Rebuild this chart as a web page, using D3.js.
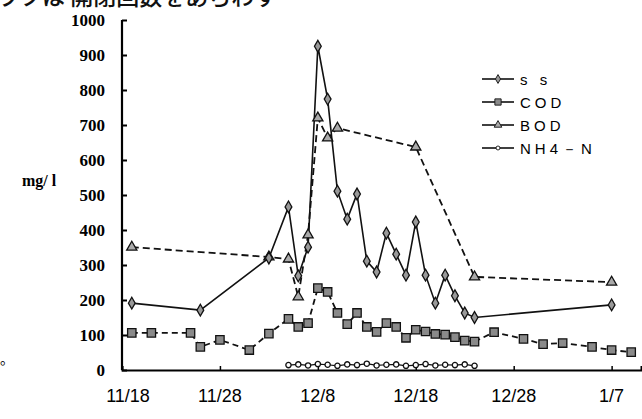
<!DOCTYPE html>
<html>
<head>
<meta charset="utf-8">
<script src="https://d3js.org/d3.v7.min.js"></script>
<style>
  body { margin: 0; background: #fff; }
  svg { display: block; }
</style>
</head>
<body>
<div id="chart-area"></div>
<script>
// days counted from 11/18
const ssDays = [1, 8, 15, 17, 18, 19, 20, 21, 22, 23, 24, 25, 26, 27, 28, 29, 30, 31, 32, 33, 34, 35, 36, 50]
const ssValues = [191, 171, 320, 466, 269, 351, 925, 774, 511, 431, 503, 311, 280, 391, 331, 271, 423, 271, 191, 271, 212, 163, 150, 186]

const codDays = [1, 3, 7, 8, 10, 13, 15, 17, 18, 19, 20, 21, 22, 23, 24, 25, 26, 27, 28, 29, 30, 31, 32, 33, 34, 35, 36, 38, 41, 43, 45, 48, 50, 52]
const codValues = [106, 106, 106, 66, 86, 57, 104, 146, 123, 134, 234, 223, 163, 131, 163, 123, 109, 134, 123, 92, 115, 110, 103, 101, 94, 84, 81, 108, 89, 74, 77, 66, 57, 51]

const bodDays = [1, 15, 17, 18, 19, 20, 21, 22, 30, 36, 50]
const bodValues = [351, 323, 317, 209, 386, 720, 663, 691, 637, 266, 251]

const nhDays = [17, 18, 19, 20, 21, 22, 23, 24, 25, 26, 27, 28, 29, 30, 31, 32, 33, 34, 35, 36]
const nhValues = [14, 16, 13, 17, 15, 12, 16, 14, 18, 13, 15, 16, 12, 14, 17, 13, 15, 14, 16, 12]

const tickDays = [0, 10, 20, 30, 40, 50]
const tickLabels = ["11/18", "11/28", "12/8", "12/18", "12/28", "1/7"]
const yTicks = [0, 100, 200, 300, 400, 500, 600, 700, 800, 900, 1000]
const seriesNames = ["s s", "COD", "BOD", "NH4－N"]

const WIDTH = 642
const HEIGHT = 419

const svg = d3.select("#chart-area").append("svg")
  .attr("width", WIDTH)
  .attr("height", HEIGHT)

const x = d3.scaleLinear().domain([0, 53]).range([122, 641])
const y = d3.scaleLinear().domain([0, 1000]).range([370, 20])

// cut-off caption at the very top
svg.append("text")
  .attr("x", -4)
  .attr("y", 5)
  .attr("font-family", "Noto Sans CJK JP")
  .attr("font-weight", "500")
  .attr("font-size", "23px")
  .attr("fill", "#111")
  .text("ラフは 開閉回数をあらわす")

// Y axis
const yAxis = svg.append("g")
  .attr("transform", `translate(${x(0)}, 0)`)
  .call(d3.axisRight(y).tickValues(yTicks).tickSize(5).tickFormat(""))
yAxis.select(".domain").attr("stroke-width", 2.2).attr("d", `M0,${y(1000)}V${y(0)}`)
yAxis.selectAll(".tick line").attr("stroke-width", 2)

svg.append("g")
  .selectAll("text")
  .data(yTicks)
  .join("text")
    .attr("x", 105)
    .attr("y", d => y(d) + 6)
    .attr("text-anchor", "end")
    .attr("font-family", "Liberation Serif")
    .attr("font-weight", "bold")
    .attr("font-size", "17px")
    .text(d => d)

// X axis
const xAxis = svg.append("g")
  .attr("transform", `translate(0, ${y(0)})`)
  .call(d3.axisTop(x).tickValues(tickDays).tickSize(4).tickFormat(""))
xAxis.select(".domain").attr("stroke-width", 2)
xAxis.selectAll(".tick line").attr("stroke-width", 1.5)

svg.append("g")
  .selectAll("text")
  .data(tickDays)
  .join("text")
    .attr("x", d => x(d) + (d === 0 ? 6 : 0))
    .attr("y", 402)
    .attr("text-anchor", "middle")
    .attr("font-family", "Liberation Sans Narrow, Liberation Sans")
    .attr("font-size", "18px")
    .text((d, i) => tickLabels[i])

// Y label
svg.append("text")
  .attr("x", 22)
  .attr("y", 186)
  .attr("font-family", "Liberation Serif")
  .attr("font-weight", "bold")
  .attr("font-size", "16px")
  .text("mg/ l")

svg.append("text")
  .attr("x", 0)
  .attr("y", 364)
  .attr("font-family", "Noto Sans CJK JP")
  .attr("font-size", "14px")
  .text("。")

const line = d3.line().x(d => x(d[0])).y(d => y(d[1]))

function pairs(days, vals) { return days.map((d, i) => [d, vals[i]]) }

const ssData = pairs(ssDays, ssValues)
const codData = pairs(codDays, codValues)
const bodData = pairs(bodDays, bodValues)
const nhData = pairs(nhDays, nhValues)

const plot = svg.append("g")

plot.append("path").datum(nhData).attr("d", line)
  .attr("fill", "none").attr("stroke", "#111").attr("stroke-width", 1.2)
plot.append("path").datum(codData).attr("d", line)
  .attr("fill", "none").attr("stroke", "#111").attr("stroke-width", 1.8).attr("stroke-dasharray", "6,4")
plot.append("path").datum(bodData).attr("d", line)
  .attr("fill", "none").attr("stroke", "#111").attr("stroke-width", 1.8).attr("stroke-dasharray", "7,4")
plot.append("path").datum(ssData).attr("d", line)
  .attr("fill", "none").attr("stroke", "#111").attr("stroke-width", 1.6)

const markers = {
  ss: d3.symbol(d3.symbolDiamond, 40),
  cod: d3.symbol(d3.symbolSquare, 70),
  bod: d3.symbol(d3.symbolTriangle, 45),
  nh: d3.symbol(d3.symbolCircle, 22)
}

function drawMarkers(data, sym, fill) {
  plot.append("g").selectAll("path")
    .data(data)
    .join("path")
      .attr("transform", d => `translate(${x(d[0])}, ${y(d[1])})`)
      .attr("d", sym)
      .attr("fill", fill)
      .attr("stroke", "#111")
      .attr("stroke-width", 1.3)
}

drawMarkers(nhData, markers.nh, "#fff")
drawMarkers(codData, markers.cod, "#8a8a8a")
drawMarkers(bodData, markers.bod, "#aaa")
drawMarkers(ssData, markers.ss, "#999")

// Legend
const legend = svg.append("g").attr("transform", "translate(482, 79)")
const legendSyms = [markers.ss, markers.cod, markers.bod, markers.nh]
const legendFill = ["#999", "#8a8a8a", "#aaa", "#fff"]
seriesNames.forEach((name, i) => {
  const row = legend.append("g").attr("transform", `translate(0, ${i * 23})`)
  row.append("line").attr("x1", 0).attr("x2", 32).attr("y1", 0).attr("y2", 0)
    .attr("stroke", "#111").attr("stroke-width", 1.6)
  row.append("path").attr("transform", "translate(16, 0) scale(0.75)")
    .attr("d", legendSyms[i]).attr("fill", legendFill[i]).attr("stroke", "#111").attr("stroke-width", 1.2)
  row.append("text").attr("x", 38).attr("y", 6)
    .attr("font-family", "Liberation Sans")
    .attr("font-size", "15px")
    .attr("letter-spacing", "4px")
    .text(name)
})
</script>
</body>
</html>
